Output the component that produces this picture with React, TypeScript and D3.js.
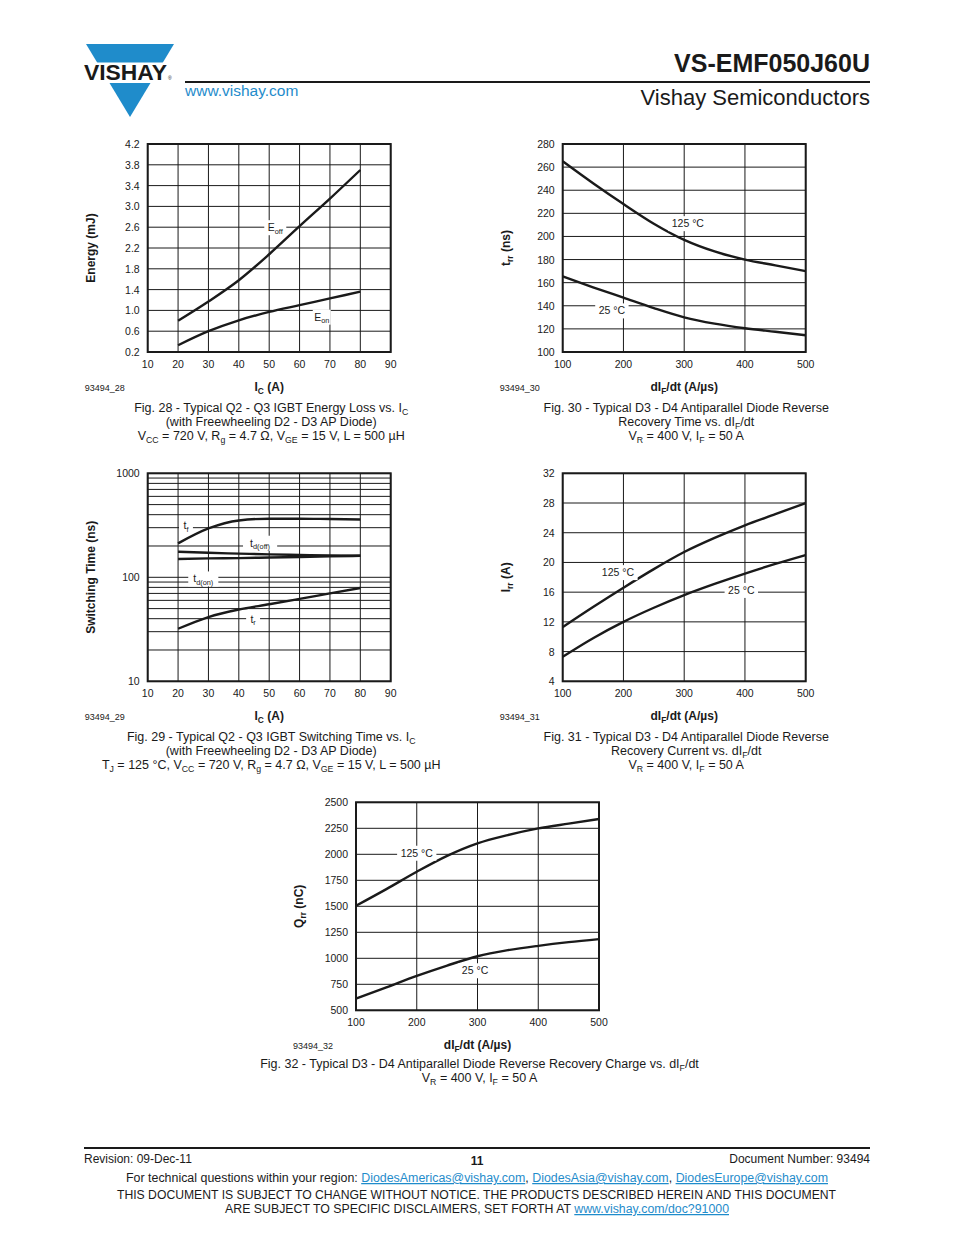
import React from "react";
import * as d3 from "d3";

const FONT = "'Liberation Sans', Arial, Helvetica, sans-serif";
const INK = "#1a1a1a";
const BLUE = "#1f8ccb";
const W = 243;
const H = 208;

// Fig. 28 - energy loss vs. Ic
const icValues = [20, 30, 40, 50, 60, 70, 80];
const eoffValues = [0.8, 1.17, 1.58, 2.08, 2.62, 3.15, 3.7];
const eonValues = [0.33, 0.6, 0.81, 0.97, 1.1, 1.23, 1.36];
const icTicks = [10, 20, 30, 40, 50, 60, 70, 80, 90];
const energyTicks = [0.2, 0.6, 1.0, 1.4, 1.8, 2.2, 2.6, 3.0, 3.4, 3.8, 4.2];

// Fig. 29 - switching time vs. Ic (log)
const tfValues = [212, 295, 352, 366, 366, 363, 360];
const tdoffValues = [176, 172, 169, 166, 164, 162, 161];
const tdonValues = [150, 152, 153, 155, 157, 159, 161];
const trValues = [32, 41.5, 49, 55, 62, 70, 79];
const timeTicks = [10, 100, 1000];

// Fig. 30/31/32 - diode vs. dIF/dt
const didtValues = [100, 150, 200, 250, 300, 350, 400, 450, 500];
const didtTicks = [100, 200, 300, 400, 500];
const trr125 = [265, 246, 228, 211, 197, 187, 180, 175, 170];
const trr25 = [165.5, 156, 147, 138, 130, 124.5, 120.5, 117.5, 114.5];
const trrTicks = [100, 120, 140, 160, 180, 200, 220, 240, 260, 280];
const irr125 = [11.3, 14.0, 16.6, 19.1, 21.4, 23.3, 25.0, 26.5, 28.0];
const irr25 = [7.3, 9.8, 12.0, 13.9, 15.6, 17.1, 18.5, 19.8, 21.0];
const irrTicks = [4, 8, 12, 16, 20, 24, 28, 32];
const qrr125 = [1505, 1665, 1832, 1985, 2105, 2185, 2249, 2295, 2339];
const qrr25 = [612, 720, 830, 930, 1020, 1078, 1120, 1155, 1184];
const qrrTicks = [500, 750, 1000, 1250, 1500, 1750, 2000, 2250, 2500];

// text with _{sub} markup
function Rich({ s, fs }: { s: string; fs: number }) {
  const parts = s.split(/(_\{[^}]*\})/).filter((p) => p !== "");
  const off = fs * 0.25;
  let down = false;
  return (
    <>
      {parts.map((p, i) => {
        if (p.startsWith("_{")) {
          const el = (
            <tspan key={i} dy={down ? 0 : off} fontSize={fs * 0.7}>
              {p.slice(2, -1)}
            </tspan>
          );
          down = true;
          return el;
        }
        const el = (
          <tspan key={i} dy={down ? -off : 0}>
            {p}
          </tspan>
        );
        down = false;
        return el;
      })}
    </>
  );
}

function textWidth(s: string, fs: number) {
  let w = 0;
  s.split(/(_\{[^}]*\})/).forEach((p) => {
    if (p.startsWith("_{")) w += (p.length - 3) * fs * 0.7 * 0.55;
    else w += p.length * fs * 0.56;
  });
  return w;
}

type Series = { xs: number[]; ys: number[] };
type Label = { text: string; x: number; y: number };

interface ChartProps {
  left: number;
  top: number;
  xDomain: [number, number];
  yDomain: [number, number];
  log?: boolean;
  xTicks: number[];
  yTicks: number[];
  fmtY: (v: number) => string;
  series: Series[];
  labels: Label[];
  yTitle: string;
  xTitle: string;
  code: string;
  captions: string[];
  captionGap?: number;
}

function Chart(p: ChartProps) {
  const x = d3.scaleLinear().domain(p.xDomain).range([p.left, p.left + W]);
  const y = (p.log ? d3.scaleLog() : d3.scaleLinear())
    .domain(p.yDomain)
    .range([p.top + H, p.top]);
  const yGrid = p.log ? (y as d3.ScaleLogarithmic<number, number>).ticks() : p.yTicks;
  const line = d3
    .line<[number, number]>()
    .x((d) => x(d[0]))
    .y((d) => y(d[1]))
    .curve(d3.curveMonotoneX);
  const cx = p.left + W / 2;
  const bottom = p.top + H;
  const gap = p.captionGap ?? 60;
  return (
    <g fontFamily={FONT} fill={INK}>
      {yGrid.map((v) => (
        <line key={"gy" + v} x1={p.left} x2={p.left + W} y1={y(v)} y2={y(v)} stroke={INK} strokeWidth={1} />
      ))}
      {p.xTicks.map((v) => (
        <line key={"gx" + v} x1={x(v)} x2={x(v)} y1={p.top} y2={bottom} stroke={INK} strokeWidth={1} />
      ))}
      {p.series.map((s, i) => (
        <path
          key={"s" + i}
          d={line(s.xs.map((xv, j) => [xv, s.ys[j]]) as [number, number][]) || ""}
          fill="none"
          stroke={INK}
          strokeWidth={2.4}
        />
      ))}
      {p.labels.map((l, i) => {
        const w = textWidth(l.text, 10.5) + 4;
        return (
          <g key={"l" + i}>
            <rect x={x(l.x) - w / 2} y={y(l.y) - 7} width={w} height={15} fill="#fff" />
            <text x={x(l.x)} y={y(l.y) + 4} fontSize={10.5} textAnchor="middle">
              <Rich s={l.text} fs={10.5} />
            </text>
          </g>
        );
      })}
      <rect x={p.left} y={p.top} width={W} height={H} fill="none" stroke={INK} strokeWidth={2} />
      {p.yTicks.map((v) => (
        <text key={"ty" + v} x={p.left - 8} y={y(v) + 4} fontSize={10.5} textAnchor="end">
          {p.fmtY(v)}
        </text>
      ))}
      {p.xTicks.map((v) => (
        <text key={"tx" + v} x={x(v)} y={bottom + 16} fontSize={10.5} textAnchor="middle">
          {v}
        </text>
      ))}
      <text
        transform={`translate(${p.left - 53},${p.top + H / 2}) rotate(-90)`}
        fontSize={12}
        fontWeight="bold"
        textAnchor="middle"
      >
        <Rich s={p.yTitle} fs={12} />
      </text>
      <text x={p.left - 63} y={bottom + 39} fontSize={9}>
        {p.code}
      </text>
      <text x={cx} y={bottom + 39} fontSize={12} fontWeight="bold" textAnchor="middle">
        <Rich s={p.xTitle} fs={12} />
      </text>
      {p.captions.map((c, i) => (
        <text key={"c" + i} x={cx + 2} y={bottom + gap + i * 14} fontSize={12.5} textAnchor="middle">
          <Rich s={c} fs={12.5} />
        </text>
      ))}
    </g>
  );
}

export default function App() {
  const leftA = 147.7;
  const leftB = 562.7;
  const didtTitle = "dI_{F}/dt (A/µs)";
  const diodeCond = "V_{R} = 400 V, I_{F} = 50 A";
  return (
    <svg
      width={954}
      height={1235}
      style={{ position: "absolute", left: 0, top: 0, background: "#fff" }}
      fontFamily={FONT}
    >
      {/* header */}
      <polygon points="86,44 174,44 130,117" fill={BLUE} />
      <rect x={84} y={62.5} width={90} height={20.5} fill="#fff" />
      <text x={84} y={80} fontSize={22} fontWeight="bold" fill={INK} textLength={83} lengthAdjust="spacingAndGlyphs">
        VISHAY
      </text>
      <text x={168} y={80} fontSize={5} fill={INK}>®</text>
      <line x1={185} x2={870} y1={82} y2={82} stroke={INK} strokeWidth={2} />
      <text x={185} y={96} fontSize={15.5} fill={BLUE}>www.vishay.com</text>
      <text x={870} y={72} fontSize={25} fontWeight="bold" fill={INK} textAnchor="end">VS-EMF050J60U</text>
      <text x={870} y={105} fontSize={22} fill={INK} textAnchor="end">Vishay Semiconductors</text>

      <Chart
        left={leftA}
        top={144}
        xDomain={[10, 90]}
        yDomain={[0.2, 4.2]}
        xTicks={icTicks}
        yTicks={energyTicks}
        fmtY={(v) => v.toFixed(1)}
        series={[
          { xs: icValues, ys: eoffValues },
          { xs: icValues, ys: eonValues },
        ]}
        labels={[
          { text: "E_{off}", x: 52, y: 2.6 },
          { text: "E_{on}", x: 67.3, y: 0.88 },
        ]}
        yTitle="Energy (mJ)"
        xTitle="I_{C} (A)"
        code="93494_28"
        captions={[
          "Fig. 28 - Typical Q2 - Q3 IGBT Energy Loss vs. I_{C}",
          "(with Freewheeling D2 - D3 AP Diode)",
          "V_{CC} = 720 V, R_{g} = 4.7 Ω, V_{GE} = 15 V, L = 500 µH",
        ]}
      />
      <Chart
        left={leftB}
        top={144}
        xDomain={[100, 500]}
        yDomain={[100, 280]}
        xTicks={didtTicks}
        yTicks={trrTicks}
        fmtY={(v) => String(v)}
        series={[
          { xs: didtValues, ys: trr125 },
          { xs: didtValues, ys: trr25 },
        ]}
        labels={[
          { text: "125 °C", x: 306, y: 211.5 },
          { text: "25 °C", x: 181, y: 136 },
        ]}
        yTitle="t_{rr} (ns)"
        xTitle={didtTitle}
        code="93494_30"
        captions={[
          "Fig. 30 - Typical D3 - D4 Antiparallel Diode Reverse",
          "Recovery Time vs. dI_{F}/dt",
          diodeCond,
        ]}
      />
      <Chart
        left={leftA}
        top={473.3}
        xDomain={[10, 90]}
        yDomain={[10, 1000]}
        log
        xTicks={icTicks}
        yTicks={timeTicks}
        fmtY={(v) => String(v)}
        series={[
          { xs: icValues, ys: tfValues },
          { xs: icValues, ys: tdoffValues },
          { xs: icValues, ys: tdonValues },
          { xs: icValues, ys: trValues },
        ]}
        labels={[
          { text: "t_{f}", x: 22.6, y: 315 },
          { text: "t_{d(off)}", x: 47, y: 215 },
          { text: "t_{d(on)}", x: 28.3, y: 97.5 },
          { text: "t_{r}", x: 44.7, y: 40 },
        ]}
        yTitle="Switching Time (ns)"
        xTitle="I_{C} (A)"
        code="93494_29"
        captions={[
          "Fig. 29 - Typical Q2 - Q3 IGBT Switching Time vs. I_{C}",
          "(with Freewheeling D2 - D3 AP Diode)",
          "T_{J} = 125 °C, V_{CC} = 720 V, R_{g} = 4.7 Ω, V_{GE} = 15 V, L = 500 µH",
        ]}
      />
      <Chart
        left={leftB}
        top={473.3}
        xDomain={[100, 500]}
        yDomain={[4, 32]}
        xTicks={didtTicks}
        yTicks={irrTicks}
        fmtY={(v) => String(v)}
        series={[
          { xs: didtValues, ys: irr125 },
          { xs: didtValues, ys: irr25 },
        ]}
        labels={[
          { text: "125 °C", x: 191, y: 18.7 },
          { text: "25 °C", x: 394, y: 16.3 },
        ]}
        yTitle="I_{rr} (A)"
        xTitle={didtTitle}
        code="93494_31"
        captions={[
          "Fig. 31 - Typical D3 - D4 Antiparallel Diode Reverse",
          "Recovery Current vs. dI_{F}/dt",
          diodeCond,
        ]}
      />
      <Chart
        left={356}
        top={802.3}
        xDomain={[100, 500]}
        yDomain={[500, 2500]}
        xTicks={didtTicks}
        yTicks={qrrTicks}
        fmtY={(v) => String(v)}
        series={[
          { xs: didtValues, ys: qrr125 },
          { xs: didtValues, ys: qrr25 },
        ]}
        labels={[
          { text: "125 °C", x: 200, y: 2015 },
          { text: "25 °C", x: 296, y: 885 },
        ]}
        yTitle="Q_{rr} (nC)"
        xTitle={didtTitle}
        code="93494_32"
        captionGap={58}
        captions={[
          "Fig. 32 - Typical D3 - D4 Antiparallel Diode Reverse Recovery Charge vs. dI_{F}/dt",
          diodeCond,
        ]}
      />

      {/* footer */}
      <line x1={84} x2={870} y1={1148} y2={1148} stroke={INK} strokeWidth={2} />
      <text x={84} y={1163} fontSize={12} fill={INK}>Revision: 09-Dec-11</text>
      <text x={477} y={1165} fontSize={12} fontWeight="bold" fill={INK} textAnchor="middle">11</text>
      <text x={870} y={1163} fontSize={12} fill={INK} textAnchor="end">Document Number: 93494</text>
      <text x={126} y={1182} fontSize={12.5} fill={INK} textLength={702} lengthAdjust="spacingAndGlyphs">
        For technical questions within your region:{" "}
        <tspan fill={BLUE} textDecoration="underline">DiodesAmericas@vishay.com</tspan>,{" "}
        <tspan fill={BLUE} textDecoration="underline">DiodesAsia@vishay.com</tspan>,{" "}
        <tspan fill={BLUE} textDecoration="underline">DiodesEurope@vishay.com</tspan>
      </text>
      <text x={117} y={1199} fontSize={12.5} fill={INK} textLength={719} lengthAdjust="spacingAndGlyphs">
        THIS DOCUMENT IS SUBJECT TO CHANGE WITHOUT NOTICE. THE PRODUCTS DESCRIBED HEREIN AND THIS DOCUMENT
      </text>
      <text x={225} y={1213} fontSize={12.5} fill={INK} textLength={504} lengthAdjust="spacingAndGlyphs">
        ARE SUBJECT TO SPECIFIC DISCLAIMERS, SET FORTH AT{" "}
        <tspan fill={BLUE} textDecoration="underline">www.vishay.com/doc?91000</tspan>
      </text>
    </svg>
  );
}
